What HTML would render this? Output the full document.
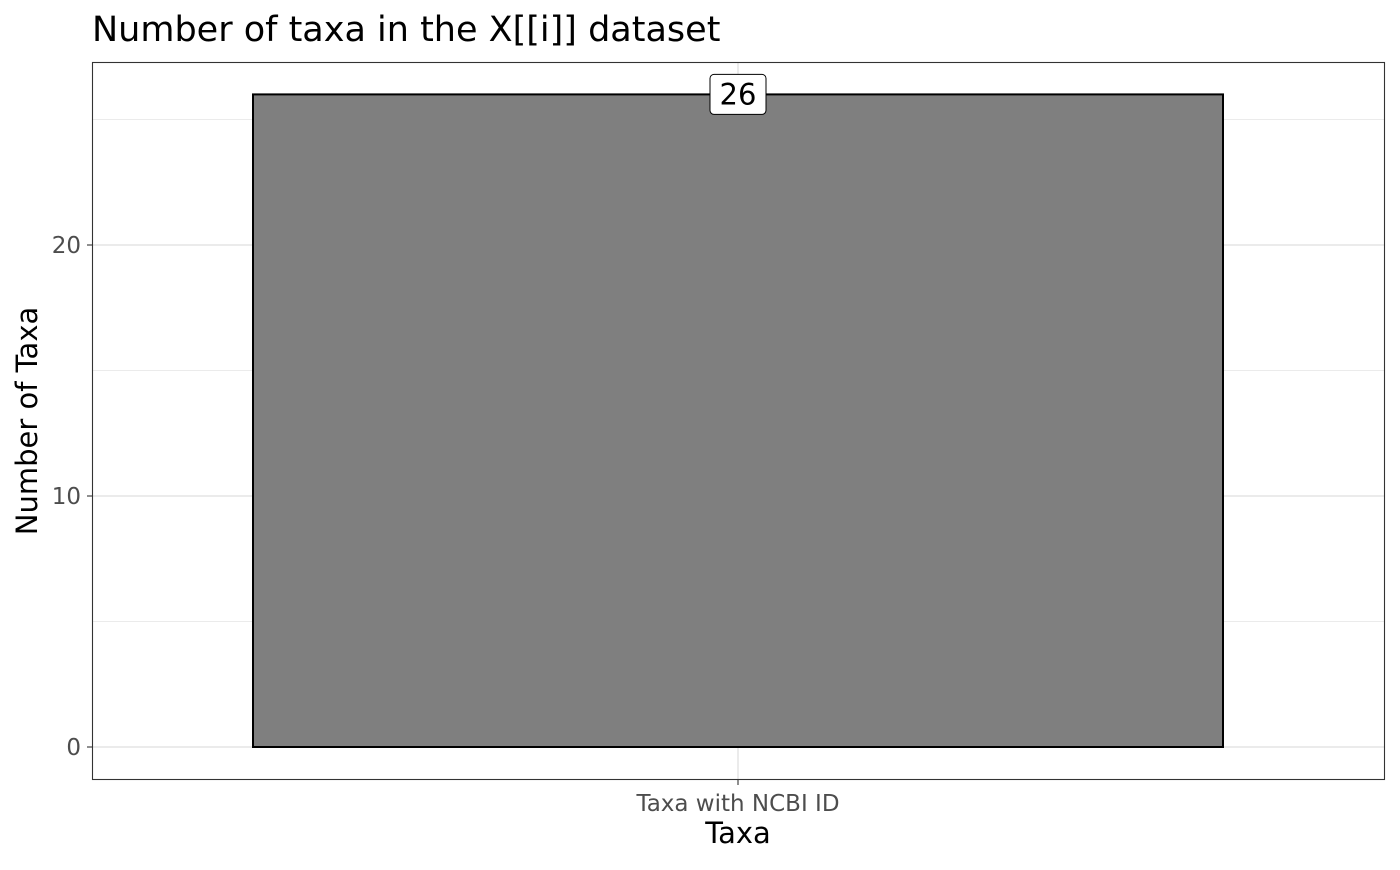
<!DOCTYPE html>
<html><head><meta charset="utf-8"><style>
body{margin:0;background:#fff;}
svg text{font-family:"DejaVu Sans","Liberation Sans",sans-serif;}
</style></head><body>
<svg id="chart" width="1400" height="865" xmlns="http://www.w3.org/2000/svg">
<text x="92" y="41" style="font-size:35px" fill="#000">Number of taxa in the X[[i]] dataset</text>
<g id="grid"></g>
<g id="bars"></g>
<rect x="92.5" y="62.5" width="1292" height="717" fill="none" stroke="#333" stroke-width="1.1"/>
<g id="axes"></g>
<text x="738" y="843" style="font-size:29px" text-anchor="middle" fill="#000">Taxa</text>
<text transform="translate(37,421) rotate(-90)" style="font-size:29px" text-anchor="middle" fill="#000">Number of Taxa</text>
</svg>
<script>
const categories=["Taxa with NCBI ID"];
const values=[26];
const yTicks=[0,10,20];
const yMinor=[5,15,25];
const NS="http://www.w3.org/2000/svg";
const y0=747, pxPerUnit=25.1;
const y=v=>y0-v*pxPerUnit;
const x=i=>738+i*970;
function mk(tag,attrs,parent){const e=document.createElementNS(NS,tag);for(const k in attrs)e.setAttribute(k,attrs[k]);parent.appendChild(e);return e;}
const grid=document.getElementById('grid'),bars=document.getElementById('bars'),axes=document.getElementById('axes');
yMinor.forEach(v=>{const l=mk('line',{x1:93,x2:1385,y1:y(v),y2:y(v),stroke:'#ebebeb','stroke-width':1},grid);

});
yTicks.forEach(v=>{const l=mk('line',{x1:93,x2:1385,y1:y(v),y2:y(v),stroke:'#ebebeb','stroke-width':2},grid);


const t=mk('line',{x1:87,x2:92,y1:y(v),y2:y(v),stroke:'#333','stroke-width':1.1},axes);


const tx=mk('text',{x:81,y:y(v)+8,style:'font-size:23px','text-anchor':'end',fill:'#4d4d4d'},axes);tx.textContent=v;

});
categories.forEach((c,i)=>{const cx=x(i);
const g=mk('line',{x1:cx,x2:cx,y1:63,y2:779,stroke:'#ebebeb','stroke-width':2},grid);


const b=mk('rect',{x:cx-485,y:y(values[i]),width:970,height:y(0)-y(values[i]),fill:'#7f7f7f',stroke:'#000','stroke-width':2},bars);


const lb=mk('rect',{x:cx-28,y:y(values[i])-20,width:56,height:40,rx:4,fill:'#fff',stroke:'#000','stroke-width':1},bars);


const lt=mk('text',{x:cx,y:y(values[i])+10,style:'font-size:29px','text-anchor':'middle',fill:'#000'},bars);lt.textContent=values[i];


const t=mk('line',{x1:cx,x2:cx,y1:780,y2:785,stroke:'#333','stroke-width':1.1},axes);


const tx=mk('text',{x:cx,y:811,style:'font-size:23px','text-anchor':'middle',fill:'#4d4d4d'},axes);tx.textContent=c;

});
</script>
</body></html>
